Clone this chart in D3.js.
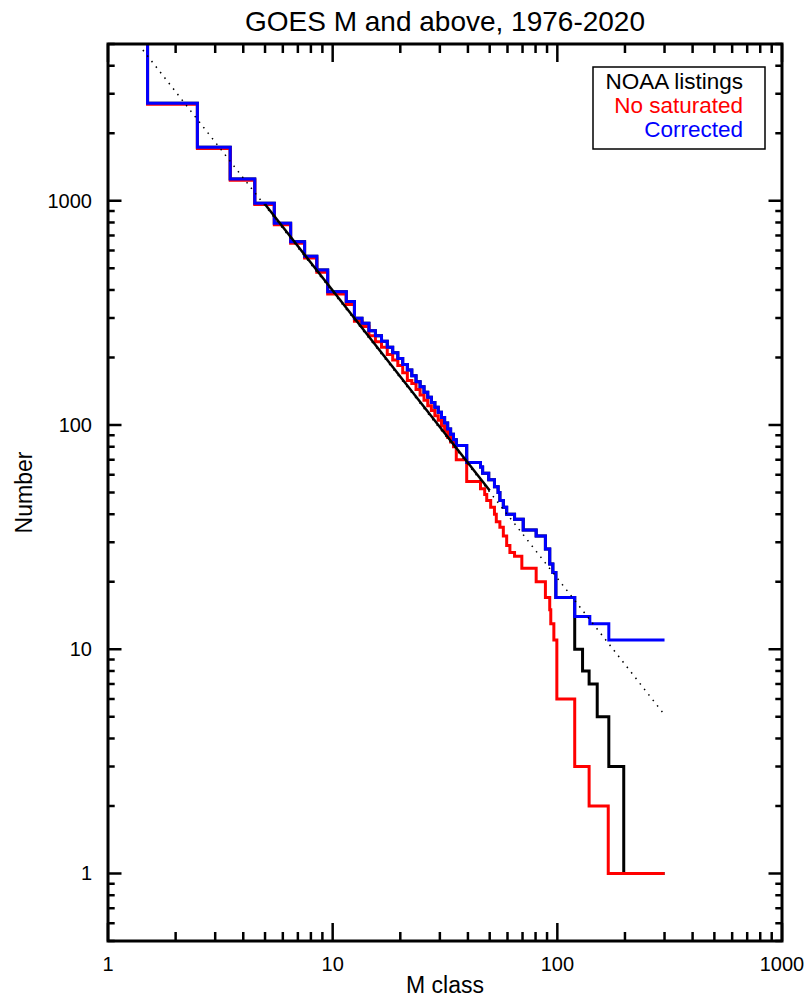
<!DOCTYPE html>
<html>
<head>
<meta charset="utf-8">
<script src="https://cdn.jsdelivr.net/npm/d3@7"></script>
<style>
  body { margin: 0; background: #fff; }
  text { font-family: "Liberation Sans", Arial, Helvetica, sans-serif; fill: #000; }
</style>
</head>
<body>
<div id="grafico"></div>
<script>
// cumulative counts N(>= M class), plotted as histogram steps centred on integer M class values
// each run starts at an integer M class and keeps its count until the next start
const blueStart = [1,2,3,4,5,6,7,8,9,10,12,13,14,15,16,17,18,19,20,21,22,23,24,25,26,27,28,29,30,31,32,33,34,35,36,40,46,47,50,53,55,56,58,60,65,71,81,89,93,96,99,120,140,170];
const blueCount = [7500,2720,1731,1250,974,793,657,566,491,393,355,299,284,263,250,236,222,210,198,186,176,166,156,148,140,133,126,120,114,108,102,96,91,86,81,68,65,61,57,53,50,46,43,40,38,34,32,28,24,22,17,14,13,11];

const redStart = [1,2,3,4,5,6,7,8,9,10,12,13,14,15,16,17,18,19,20,21,22,23,24,25,26,27,28,29,30,31,32,33,34,35,36,40,46,48,49,51,53,54,56,58,60,62,65,70,81,89,93,94,97,100,120,139,169];
const redCount = [7450,2690,1712,1235,962,782,646,555,480,384,345,290,275,250,235,222,206,195,184,171,158,153,144,136,129,122,116,110,105,99,94,88,84,80,70,56,52,49,46,43,40,37,35,32,29,27,26,23,20,17,15,13,11,6,3,2,1];

// NOAA listings: same as the corrected curve below M120, then this tail
const blackTailStart = [120,130,139,151,170,198];
const blackTailCount = [10,8,7,5,3,1];

const xEnd = 300;

// power-law fit: solid over the fitted range, dotted extension
const fitSolid = [[5, 964], [50, 51]];
const fitDotted = [[1.43, 4700], [300, 5.1]];

const xTickLabels = [1, 10, 100, 1000];
const yTickLabels = [1, 10, 100, 1000];
const legendItems = [
  {label: "NOAA listings", color: "#000000"},
  {label: "No saturated", color: "#ff0000"},
  {label: "Corrected", color: "#0000ff"}
];

const W = 810, H = 999;
const margin = {top: 44, right: 28, bottom: 58, left: 108};
const width = W - margin.left - margin.right;
const height = H - margin.top - margin.bottom;

const svg = d3.select("#grafico").append("svg")
  .attr("width", W).attr("height", H);

const g = svg.append("g").attr("transform", `translate(${margin.left},${margin.top})`);

const x = d3.scaleLog().domain([1, 1000]).range([0, width]);
const y = d3.scaleLog().domain([0.5, 5000]).range([height, 0]);

g.append("clipPath").attr("id", "clip")
  .append("rect").attr("width", width).attr("height", height);

// step points from runs
let stepPoints = (starts, counts) => {
  let pts = starts.map((s, i) => [i === 0 ? s : s - 0.5, counts[i]]);
  pts.push([xEnd, counts[counts.length - 1]]);
  return pts;
};

let blackStart = blueStart.filter(s => s < 120).concat(blackTailStart);
let blackCount = blueCount.filter((c, i) => blueStart[i] < 120).concat(blackTailCount);

const step = d3.line().x(d => x(d[0])).y(d => y(d[1])).curve(d3.curveStepAfter);
const straight = d3.line().x(d => x(d[0])).y(d => y(d[1]));

const plot = g.append("g").attr("clip-path", "url(#clip)");

[[blackStart, blackCount, "#000"], [redStart, redCount, "#ff0000"], [blueStart, blueCount, "#0000ff"]]
  .forEach(([s, c, col]) => {
    plot.append("path")
      .datum(stepPoints(s, c))
      .attr("d", step)
      .attr("fill", "none")
      .attr("stroke", col)
      .attr("stroke-width", 3)
      .attr("stroke-linejoin", "miter");
  });

plot.append("path").datum(fitSolid).attr("d", straight)
  .attr("fill", "none").attr("stroke", "#000").attr("stroke-width", 2.5);

plot.append("path").datum(fitDotted).attr("d", straight)
  .attr("fill", "none").attr("stroke", "#000").attr("stroke-width", 1.5)
  .attr("stroke-dasharray", "1.5,5.5");

// ticks (inward, on all four sides)
const xMinor = x.ticks().filter(d => !xTickLabels.includes(d));
const yMinor = y.ticks().filter(d => !yTickLabels.includes(d) && d >= 0.5 && d <= 5000);

let tickLines = (vals, len, horizontal) => {
  vals.forEach(v => {
    if (horizontal) {
      let px = x(v);
      g.append("line").attr("x1", px).attr("x2", px).attr("y1", height).attr("y2", height - len);
      g.append("line").attr("x1", px).attr("x2", px).attr("y1", 0).attr("y2", len);
    } else {
      let py = y(v);
      g.append("line").attr("x1", 0).attr("x2", len).attr("y1", py).attr("y2", py);
      g.append("line").attr("x1", width).attr("x2", width - len).attr("y1", py).attr("y2", py);
    }
  });
};
tickLines(xTickLabels, 18, true);
tickLines(xMinor, 9, true);
tickLines(yTickLabels, 13.5, false);
tickLines(yMinor, 6.7, false);
g.selectAll("line").attr("stroke", "#000").attr("stroke-width", 2.5);

// frame
g.append("rect").attr("width", width).attr("height", height)
  .attr("fill", "none").attr("stroke", "#000").attr("stroke-width", 3);

// tick labels
g.append("g").selectAll("text").data(xTickLabels).enter().append("text")
  .attr("x", d => x(d)).attr("y", height + 30)
  .attr("text-anchor", "middle").style("font-size", "20px")
  .text(d => d);

g.append("g").selectAll("text").data(yTickLabels).enter().append("text")
  .attr("x", -16).attr("y", d => y(d)).attr("dy", "0.35em")
  .attr("text-anchor", "end").style("font-size", "20px")
  .text(d => d);

// titles
svg.append("text").attr("x", margin.left + width / 2).attr("y", 31)
  .attr("text-anchor", "middle").style("font-size", "28px")
  .text("GOES M and above, 1976-2020");

svg.append("text").attr("x", margin.left + width / 2).attr("y", 993)
  .attr("text-anchor", "middle").style("font-size", "23px")
  .text("M class");

svg.append("text")
  .attr("transform", `translate(32,${margin.top + height / 2}) rotate(-90)`)
  .attr("text-anchor", "middle").style("font-size", "23px")
  .text("Number");

// legend
const legend = svg.append("g").attr("id", "legend");
legend.append("rect").attr("x", 593).attr("y", 67).attr("width", 172).attr("height", 82)
  .attr("fill", "#fff").attr("stroke", "#000").attr("stroke-width", 1.5);
legend.selectAll("text").data(legendItems).enter().append("text")
  .attr("x", 743).attr("y", (d, i) => 89 + i * 24)
  .attr("text-anchor", "end").style("font-size", "22.5px")
  .style("fill", d => d.color)
  .text(d => d.label);
</script>
</body>
</html>
